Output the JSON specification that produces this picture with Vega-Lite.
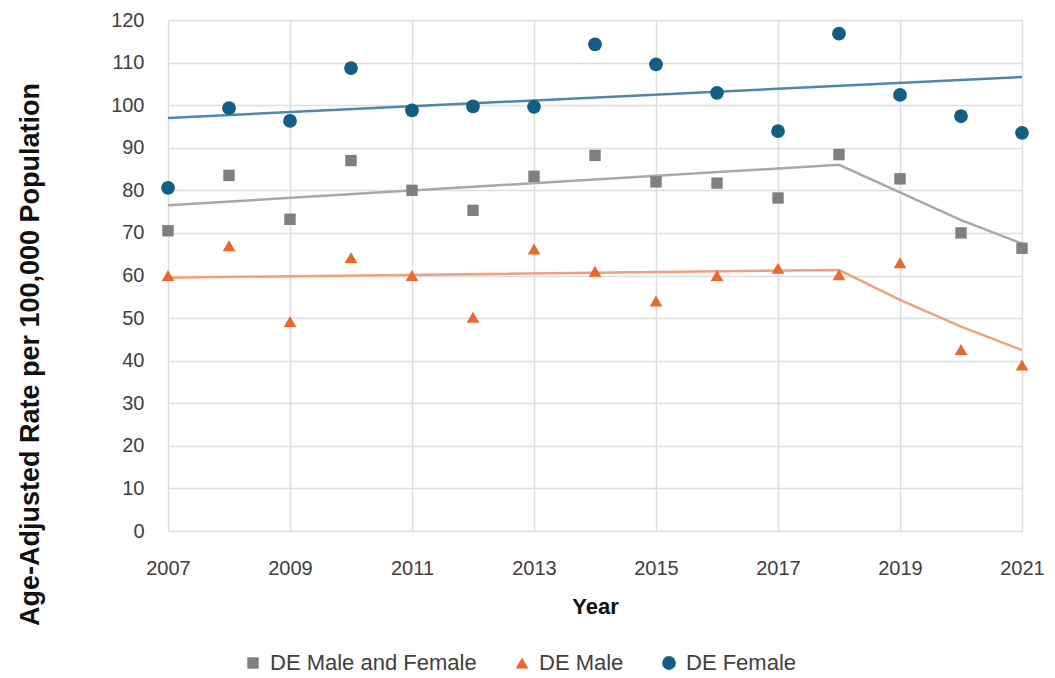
{
  "$schema": "https://vega.github.io/schema/vega-lite/v6.json",
  "autosize": {"type": "none"},
  "width": 854,
  "height": 511,
  "padding": {"left": 168, "top": 20, "right": 33, "bottom": 147},
  "background": "white",
  "config": {
    "font": "Liberation Sans",
    "view": {"stroke": null},
    "axis": {
      "labelFont": "Liberation Sans",
      "labelFontSize": 20,
      "labelColor": "#404040",
      "titleFont": "Liberation Sans",
      "titleFontWeight": "bold",
      "titleColor": "#111111",
      "gridColor": "#dedede",
      "gridWidth": 1.5,
      "domain": false,
      "ticks": false
    },
    "legend": {
      "orient": "none",
      "direction": "horizontal",
      "legendX": 74,
      "legendY": 632,
      "labelFont": "Liberation Sans",
      "labelFontSize": 22,
      "labelColor": "#404040",
      "labelLimit": 400,
      "columnPadding": 34,
      "labelOffset": 6,
      "title": null
    }
  },
  "data": {
    "values": [
      {"year": 2007, "series": "DE Male and Female", "value": 70.5, "trend": 76.5},
      {"year": 2008, "series": "DE Male and Female", "value": 83.5, "trend": null},
      {"year": 2009, "series": "DE Male and Female", "value": 73.2, "trend": null},
      {"year": 2010, "series": "DE Male and Female", "value": 87.0, "trend": null},
      {"year": 2011, "series": "DE Male and Female", "value": 80.0, "trend": null},
      {"year": 2012, "series": "DE Male and Female", "value": 75.3, "trend": null},
      {"year": 2013, "series": "DE Male and Female", "value": 83.3, "trend": null},
      {"year": 2014, "series": "DE Male and Female", "value": 88.2, "trend": null},
      {"year": 2015, "series": "DE Male and Female", "value": 82.0, "trend": null},
      {"year": 2016, "series": "DE Male and Female", "value": 81.7, "trend": null},
      {"year": 2017, "series": "DE Male and Female", "value": 78.2, "trend": null},
      {"year": 2018, "series": "DE Male and Female", "value": 88.4, "trend": 86.0},
      {"year": 2019, "series": "DE Male and Female", "value": 82.7, "trend": 79.5},
      {"year": 2020, "series": "DE Male and Female", "value": 70.0, "trend": 73.0},
      {"year": 2021, "series": "DE Male and Female", "value": 66.4, "trend": 67.5},
      {"year": 2007, "series": "DE Male", "value": 60.0, "trend": 59.5},
      {"year": 2008, "series": "DE Male", "value": 67.0, "trend": null},
      {"year": 2009, "series": "DE Male", "value": 49.2, "trend": null},
      {"year": 2010, "series": "DE Male", "value": 64.2, "trend": null},
      {"year": 2011, "series": "DE Male", "value": 60.0, "trend": null},
      {"year": 2012, "series": "DE Male", "value": 50.2, "trend": null},
      {"year": 2013, "series": "DE Male", "value": 66.2, "trend": null},
      {"year": 2014, "series": "DE Male", "value": 61.0, "trend": null},
      {"year": 2015, "series": "DE Male", "value": 54.0, "trend": null},
      {"year": 2016, "series": "DE Male", "value": 60.0, "trend": null},
      {"year": 2017, "series": "DE Male", "value": 61.7, "trend": null},
      {"year": 2018, "series": "DE Male", "value": 60.2, "trend": 61.3},
      {"year": 2019, "series": "DE Male", "value": 63.0, "trend": 54.3},
      {"year": 2020, "series": "DE Male", "value": 42.6, "trend": 48.0},
      {"year": 2021, "series": "DE Male", "value": 39.0, "trend": 42.5},
      {"year": 2007, "series": "DE Female", "value": 80.6, "trend": 97.0},
      {"year": 2008, "series": "DE Female", "value": 99.3, "trend": null},
      {"year": 2009, "series": "DE Female", "value": 96.3, "trend": null},
      {"year": 2010, "series": "DE Female", "value": 108.7, "trend": null},
      {"year": 2011, "series": "DE Female", "value": 98.8, "trend": null},
      {"year": 2012, "series": "DE Female", "value": 99.7, "trend": null},
      {"year": 2013, "series": "DE Female", "value": 99.6, "trend": null},
      {"year": 2014, "series": "DE Female", "value": 114.3, "trend": null},
      {"year": 2015, "series": "DE Female", "value": 109.6, "trend": null},
      {"year": 2016, "series": "DE Female", "value": 102.9, "trend": null},
      {"year": 2017, "series": "DE Female", "value": 93.9, "trend": null},
      {"year": 2018, "series": "DE Female", "value": 116.8, "trend": null},
      {"year": 2019, "series": "DE Female", "value": 102.4, "trend": null},
      {"year": 2020, "series": "DE Female", "value": 97.4, "trend": null},
      {"year": 2021, "series": "DE Female", "value": 93.5, "trend": 106.6}
    ]
  },
  "encoding": {
    "x": {
      "field": "year",
      "type": "quantitative",
      "scale": {"domain": [2007, 2021], "nice": false, "zero": false},
      "axis": {
        "title": "Year",
        "values": [2007, 2009, 2011, 2013, 2015, 2017, 2019, 2021],
        "format": "d",
        "labelPadding": 27,
        "titleFontSize": 22,
        "titlePadding": 18,
        "labelFlush": false
      }
    }
  },
  "layer": [
    {
      "transform": [{"filter": "datum.trend != null && datum.series == 'DE Male and Female'"}],
      "mark": {"type": "line", "strokeWidth": 2.5, "color": "#a8a8a8"},
      "encoding": {
        "y": {"field": "trend", "type": "quantitative", "scale": {"domain": [0, 120], "nice": false}}
      }
    },
    {
      "transform": [{"filter": "datum.trend != null && datum.series == 'DE Male'"}],
      "mark": {"type": "line", "strokeWidth": 2.5, "color": "#f0a07c"},
      "encoding": {
        "y": {"field": "trend", "type": "quantitative"}
      }
    },
    {
      "transform": [{"filter": "datum.trend != null && datum.series == 'DE Female'"}],
      "mark": {"type": "line", "strokeWidth": 2.5, "color": "#4d88aa"},
      "encoding": {
        "y": {"field": "trend", "type": "quantitative"}
      }
    },
    {
      "mark": {"type": "point", "filled": true, "opacity": 1},
      "encoding": {
        "y": {
          "field": "value",
          "type": "quantitative",
          "scale": {"domain": [0, 120], "nice": false},
          "axis": {
            "title": "Age-Adjusted Rate per 100,000 Population",
            "values": [0, 10, 20, 30, 40, 50, 60, 70, 80, 90, 100, 110, 120],
            "labelPadding": 24,
            "titleFontSize": 27,
            "titleAngle": 270,
            "titleX": -138,
            "titleY": 334,
            "titleAlign": "center",
            "titleBaseline": "middle"
          }
        },
        "color": {
          "field": "series",
          "type": "nominal",
          "scale": {
            "domain": ["DE Male and Female", "DE Male", "DE Female"],
            "range": ["#7f7f7f", "#e8692b", "#135f84"]
          }
        },
        "shape": {
          "field": "series",
          "type": "nominal",
          "scale": {
            "domain": ["DE Male and Female", "DE Male", "DE Female"],
            "range": ["square", "triangle-up", "circle"]
          }
        },
        "size": {
          "field": "series",
          "type": "nominal",
          "scale": {
            "domain": ["DE Male and Female", "DE Male", "DE Female"],
            "range": [130, 190, 250]
          }
        }
      }
    }
  ]
}
